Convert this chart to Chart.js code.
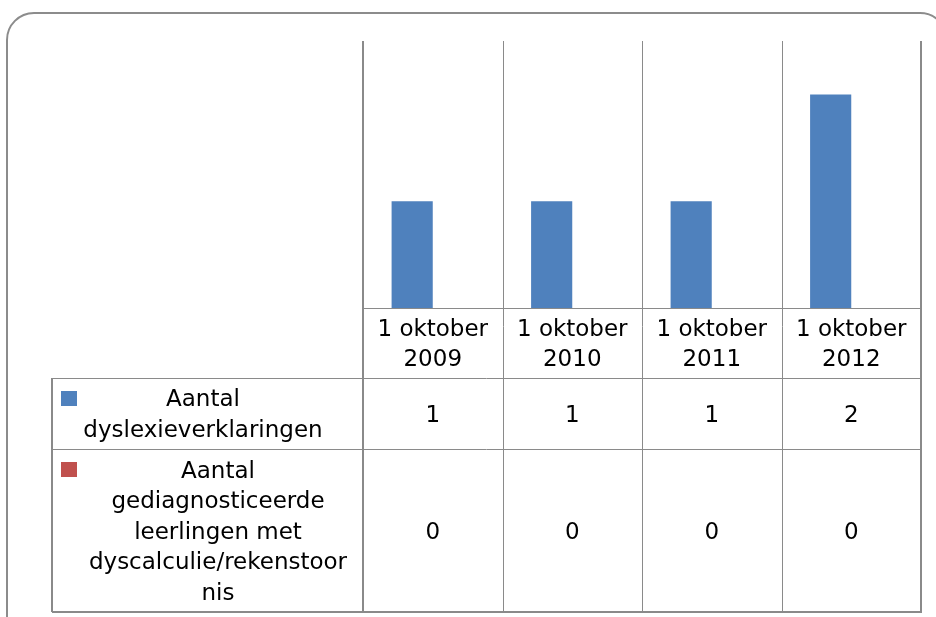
<!DOCTYPE html>
<html>
<head>
<meta charset="utf-8">
<script src="https://cdn.jsdelivr.net/npm/chart.js@4.4.0/dist/chart.umd.min.js"></script>
<style>
  html, body { margin: 0; padding: 0; background: #fff; }
  #wrap { width: 936px; height: 617px; }
</style>
</head>
<body>
<div id="wrap"><canvas id="chart" width="936" height="617"></canvas></div>
<script>
const categories = [['1 oktober', '2009'], ['1 oktober', '2010'], ['1 oktober', '2011'], ['1 oktober', '2012']];
const seriesLabels = [
    ['Aantal', 'dyslexieverklaringen'],
    ['Aantal', 'gediagnosticeerde', 'leerlingen met', 'dyscalculie/rekenstoor', 'nis']
];
const dyslexieverklaringen = [1, 1, 1, 2];
const dyscalculie = [0, 0, 0, 0];
const seriesColors = ['#4f81bd', '#c0504d'];

// layout of the data table under the plot area
const lineColor = '#8a8a8a';
const textFont = '23px "DejaVu Sans"';
const headerHeight = 70;
const rowHeights = [71, 163];
const tableLeft = 52;
const labelCenters = [203, 218];
const lineHeight = 30.5;

function drawLines(ctx, lines, cx, cy) {
    const first = cy - (lines.length - 1) * lineHeight / 2 + 8;
    lines.forEach((line, k) => ctx.fillText(line, cx, first + k * lineHeight));
}

function hLine(ctx, x1, x2, y, w) {
    ctx.lineWidth = w;
    ctx.beginPath();
    ctx.moveTo(x1, y);
    ctx.lineTo(x2, y);
    ctx.stroke();
}

function vLine(ctx, x, y1, y2, w) {
    ctx.lineWidth = w;
    ctx.beginPath();
    ctx.moveTo(x, y1);
    ctx.lineTo(x, y2);
    ctx.stroke();
}

const dataTable = {
    id: 'dataTable',
    beforeDraw(chart) {
        const ctx = chart.ctx;
        ctx.save();
        ctx.fillStyle = '#fff';
        ctx.fillRect(0, 0, chart.width, chart.height);
        ctx.strokeStyle = '#8c8c8c';
        ctx.lineWidth = 2;
        ctx.beginPath();
        ctx.roundRect(7, 13, 940, 640, 27);
        ctx.stroke();
        ctx.restore();
    },
    beforeDatasetsDraw(chart) {
        const ctx = chart.ctx;
        const x = chart.scales.x;
        const area = chart.chartArea;
        const n = chart.data.labels.length;
        const half = (x.getPixelForValue(1) - x.getPixelForValue(0)) / 2;
        const bounds = [];
        for (let i = 0; i < n; i++) bounds.push(x.getPixelForValue(i) - half);
        bounds.push(x.getPixelForValue(n - 1) + half);
        const row1Top = area.bottom + headerHeight;
        const row2Top = row1Top + rowHeights[0];
        const bottom = row2Top + rowHeights[1];

        ctx.save();
        ctx.strokeStyle = lineColor;
        bounds.forEach((bx, i) => {
            const outer = i === 0 || i === n;
            vLine(ctx, outer ? Math.round(bx) : Math.round(bx) + 0.5, area.top, bottom, outer ? 2 : 1);
        });
        vLine(ctx, tableLeft, row1Top, bottom, 2);
        hLine(ctx, bounds[0], bounds[n], Math.round(area.bottom) + 0.5, 1);
        hLine(ctx, tableLeft, bounds[n], row1Top + 0.5, 1);
        hLine(ctx, tableLeft, bounds[n], row2Top + 0.5, 1);
        hLine(ctx, tableLeft, bounds[n] + 1, bottom, 2);
        ctx.restore();
    },
    afterDatasetsDraw(chart) {
        const ctx = chart.ctx;
        const x = chart.scales.x;
        const area = chart.chartArea;
        ctx.save();
        ctx.font = textFont;
        ctx.fillStyle = '#000';
        ctx.textAlign = 'center';
        ctx.textBaseline = 'alphabetic';

        chart.data.labels.forEach((label, i) => {
            drawLines(ctx, label, x.getPixelForValue(i), area.bottom + headerHeight / 2);
        });

        let top = area.bottom + headerHeight;
        chart.data.datasets.forEach((ds, d) => {
            const h = rowHeights[d];
            ctx.fillStyle = ds.backgroundColor;
            ctx.fillRect(61, top + 13, 16, 15);
            ctx.fillStyle = '#000';
            drawLines(ctx, seriesLabels[d], labelCenters[d], top + h / 2);
            ds.data.forEach((v, i) => {
                ctx.fillText(String(v), x.getPixelForValue(i), top + h / 2 + 8);
            });
            top += h;
        });
        ctx.restore();
    }
};

new Chart(document.getElementById('chart'), {
    type: 'bar',
    data: {
        labels: categories,
        datasets: [
            {
                label: seriesLabels[0].join(' '),
                data: dyslexieverklaringen,
                backgroundColor: seriesColors[0],
                categoryPercentage: 0.59,
                barPercentage: 1
            },
            {
                label: seriesLabels[1].join(' '),
                data: dyscalculie,
                backgroundColor: seriesColors[1],
                categoryPercentage: 0.59,
                barPercentage: 1
            }
        ]
    },
    options: {
        responsive: false,
        animation: false,
        layout: {
            padding: { left: 363, right: 15, top: 41, bottom: 309 }
        },
        scales: {
            x: { display: false },
            y: { display: false, min: 0, max: 2.5 }
        },
        plugins: {
            legend: { display: false },
            tooltip: { enabled: false }
        }
    },
    plugins: [dataTable]
});
</script>
</body>
</html>
